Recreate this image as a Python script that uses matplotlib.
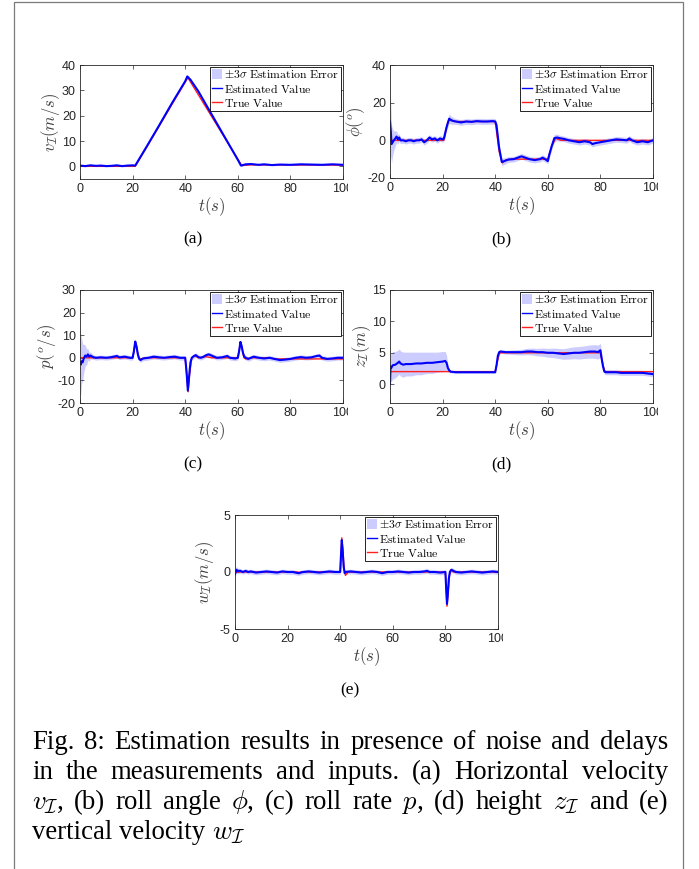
import numpy as np
import matplotlib
matplotlib.use("Agg")
import matplotlib.pyplot as plt
from matplotlib.patches import Patch, Rectangle
from matplotlib.lines import Line2D
from matplotlib.transforms import Bbox, TransformedBbox

plt.rcParams['mathtext.fontset'] = 'cm'
plt.rcParams['font.family'] = ['Liberation Sans', 'DejaVu Sans']
plt.rcParams['axes.unicode_minus'] = False

# ---------------- data (t, estimate, 3-sigma half width) ----------------
est_a = [(0,0.3,0.3),(2,0.1,0.3),(4,0.4,0.3),(6,0.2,0.3),(8,0.3,0.3),(10,0.1,0.3),(12,0.2,0.3),
         (14,0.4,0.3),(16,0.1,0.3),(18,0.3,0.3),(20,0.4,0.3),(21,0.3,0.3),(25,7.2,0.3),(30,16.0,0.3),
         (35,25.0,0.3),(40,33.6,0.3),(40.8,35.5,0.3),(42,34.2,0.3),(45,29.6,0.3),(50,20.6,0.3),
         (55,11.6,0.3),(60,2.6,0.3),(61.2,0.3,0.3),(63,0.8,0.3),(65,0.9,0.3),(68,0.6,0.3),(70,0.8,0.3),
         (73,0.5,0.3),(76,0.7,0.3),(80,0.6,0.3),(84,0.8,0.3),(88,0.7,0.3),(92,0.6,0.3),(96,0.8,0.3),
         (100,0.6,0.3)]
true_a = [(0,0),(21,0),(41,35),(61.5,0.3),(65,0.6),(100,0.5)]

est_b = [(0,10,18),(0.3,5,14),(0.6,-2,10),(1,-1,7),(1.5,0,5),(2,1,4),(2.5,2,3),(3,0.5,2.5),(3.5,1.5,2),
         (4,0,1.8),(5,0,1.5),(6,-0.5,1.5),(7,0,1.5),(8,0,1.5),(9,-0.5,1.5),(10,0,1.5),(11,0,1.5),
         (12,0.5,1.5),(13,-1,1.5),(14,0,1.5),(15,1.5,1.5),(16,0.5,1.5),(17,1,1.5),(18,0,1.5),(19,1,1.5),
         (20,0.5,1.5),(20.5,1,1.5),(21.5,7,2),(22.5,11.5,2.5),(23.5,10.5,2),(25,10,1.5),(27,9.5,1.5),
         (29,10,1.5),(31,9.8,1.5),(33,10.2,1.5),(35,10,1.5),(37,10,1.5),(39,10.2,1.5),(40,10,1.5),
         (40.5,8,1.5),(41.5,-4,2),(42.5,-11.5,2),(43.5,-11,1.8),(45,-10.2,1.5),(47,-10,1.5),(49,-9,1.5),
         (50,-8.5,1.5),(51,-9,1.5),(53,-10,1.5),(55,-10.5,1.5),(57,-10,1.5),(58,-9.2,1.5),(59,-10,1.5),
         (60,-11,1.5),(60.5,-8,1.8),(61.5,-3,2),(62.5,1.2,2),(63.5,1.5,1.8),(65,1,1.5),(66,0.8,1.5),
         (68,0,1.5),(70,-0.5,1.5),(72,-1,1.5),(74,-0.5,1.5),(76,-1,1.5),(77,-2,1.5),(78,-1.5,1.5),
         (80,-1,1.5),(82,-0.5,1.5),(84,0,1.5),(86,0.5,1.5),(88,0.3,1.5),(90,0,1.5),(91,1,1.5),
         (92,0,1.5),(94,-1,1.5),(96,-0.5,1.5),(98,-1,1.5),(100,0,1.5)]
true_b = [(0,0),(20.5,0),(22,10),(23,11),(24.5,10),(40,10),(41.5,-6),(42.7,-12),(44,-10.5),(46,-10),
          (60,-10),(61.5,-3),(63,1),(65,0),(100,0)]

est_c = [(0,-2,15),(0.3,-3,13),(0.6,-1.5,10),(1,-2,8),(1.5,0,6),(2,1,4.5),(2.5,0.5,3.5),(3,1.5,2.5),
         (3.5,0.5,2),(4,1,1.5),(5,0.3,1),(6,0,1),(8,0.2,1),(10,0,1),(12,0.3,1),(14,0.8,1),(15,0.2,1),
         (17,0.5,1),(19,0,1),(20,0,1),(20.5,3,1),(21,7.2,1.2),(21.5,5,1),(22,1.5,1),(22.5,-0.5,1),
         (23,-1,1),(24,-0.3,1),(26,0,1),(28,0.5,1),(30,0.2,1),(32,0,1),(34,0.3,1),(36,0.5,1),(38,0,1),
         (40,0,1),(40.5,-6,1.2),(41,-14.5,1.5),(41.5,-8,1.2),(42,-2,1),(42.5,0,1),(43,0.5,1),(44,1.2,1),
         (45,0.3,1),(46,0,1),(47,0.5,1),(48,1.2,1),(49,1.5,1),(50,1,1),(51,0.5,1),(52,0,1),(54,0.2,1),
         (56,0.8,1),(57,0,1),(59,-0.3,1),(60,0,1),(60.5,3,1),(61,7,1.2),(61.5,5,1),(62,2,1),(62.5,0.5,1),
         (63,0,1),(64,-0.5,1),(66,0.5,1),(68,0,1),(70,-0.3,1),(72,0,1),(74,-0.5,1),(76,-1,1),
         (78,-0.8,1),(80,-0.5,1),(82,0,1),(84,0.3,1),(86,0,1),(88,0.2,1),(90,0.8,1),(91,1,1),(92,0,1),
         (94,-0.5,1),(96,-0.3,1),(98,0,1),(100,0,1)]
true_c = [(0,0),(20,0),(20.5,3),(21,7),(21.6,4),(22.3,0),(23,-0.5),(25,0),(40,0),(40.5,-7),(41.1,-15),
          (41.7,-7),(42.5,0),(43.5,1),(45,0),(48,0.5),(50,0),(60,0),(60.5,3),(61,7.2),(61.6,4),(62.3,0),
          (63,-0.5),(65,0),(72,0),(74,-0.5),(100,-0.5)]

est_d = [(0,0,3),(0.2,2.8,2.2),(0.5,2.6,2.2),(1,3,2.2),(2,3.1,2.1),(3,3.4,2),(3.5,3.6,2),(4,3.3,2),
         (5,3.1,2),(6,3.2,1.9),(8,3.2,1.9),(10,3.3,1.8),(12,3.3,1.8),(14,3.4,1.7),(16,3.4,1.7),
         (18,3.5,1.6),(20,3.6,1.6),(21,3.7,1.5),(21.5,3.4,1.2),(22,2.6,0.6),(22.5,2.2,0.3),(23,2,0.2),
         (25,1.9,0.15),(30,1.9,0.15),(35,1.9,0.15),(40,1.9,0.15),(40.5,3,0.2),(41,4.5,0.3),
         (41.5,5.1,0.3),(42,5.2,0.3),(44,5.1,0.3),(46,5.1,0.35),(48,5.1,0.4),(50,5.1,0.45),
         (52,5.2,0.5),(54,5.2,0.55),(56,5.1,0.6),(58,5.1,0.65),(60,5,0.7),(62,5,0.75),(64,4.9,0.8),
         (66,4.8,0.85),(68,4.9,0.9),(70,5,0.95),(72,5,1),(74,5.1,1),(76,5.2,1.05),(78,5.2,1.1),
         (79,5.1,1.1),(80,5.4,1.1),(80.5,4,0.8),(81,2.8,0.5),(81.5,2,0.4),(82,1.9,0.4),(84,1.9,0.4),
         (86,1.9,0.4),(88,1.8,0.4),(90,1.8,0.4),(92,1.8,0.4),(94,1.8,0.4),(96,1.8,0.4),(98,1.7,0.4),
         (100,1.6,0.4)]
true_d = [(0,2),(40,2),(40.5,3),(41.5,4.8),(42,5),(80,5),(80.5,4),(81.5,2.2),(82,2),(100,2)]

est_e = [(0,-0.2,0.3),(0.5,0.2,0.3),(1,0.1,0.25),(2,0.1,0.2),(3,0,0.2),(4,0.1,0.2),(5,0,0.2),
         (6,0.05,0.2),(8,-0.05,0.2),(10,0,0.2),(12,0.05,0.2),(14,0,0.2),(16,-0.05,0.2),(18,0.05,0.2),
         (20,0,0.2),(22,0,0.2),(24,-0.1,0.2),(26,0,0.2),(28,0.05,0.2),(30,0,0.2),(32,-0.05,0.2),
         (34,0,0.2),(36,0.05,0.2),(38,0,0.2),(40,0,0.2),(40.3,1.5,0.2),(40.6,2.8,0.25),(40.9,2,0.2),
         (41.3,0.5,0.2),(41.7,-0.1,0.2),(42,0,0.2),(44,0.05,0.2),(46,0,0.2),(48,-0.05,0.2),(50,0,0.2),
         (52,0.05,0.2),(54,0,0.2),(56,-0.1,0.2),(58,0,0.2),(60,0,0.2),(62,0.05,0.2),(64,0,0.2),
         (66,-0.05,0.2),(68,0,0.2),(70,0,0.2),(72,0.05,0.2),(73,0.1,0.2),(74,0,0.2),(76,0,0.2),
         (78,-0.05,0.2),(80,0,0.2),(80.3,-1.5,0.2),(80.6,-2.8,0.25),(80.9,-2,0.2),(81.3,-0.6,0.2),
         (81.7,0,0.2),(82.3,0.2,0.2),(83,0.1,0.2),(84,0,0.2),(86,-0.05,0.2),(88,0,0.2),(90,0.05,0.2),
         (92,0,0.2),(94,-0.05,0.2),(96,0,0.2),(98,0.05,0.2),(100,0,0.2)]
true_e = [(0,0),(24,0),(24.5,-0.15),(25,0),(40,0),(40.3,1.5),(40.6,3),(41,2),(41.5,0.3),(42,-0.3),
          (43,0),(80,0),(80.3,-1.5),(80.6,-3),(81,-2),(81.5,-0.3),(82,0.2),(83,0),(100,0)]

ylim_list = [(-5, 40), (-20, 40), (-20, 30), (-3, 15), (-5, 5)]
yticks_list = [[0, 10, 20, 30, 40], [-20, 0, 20, 40], [-20, -10, 0, 10, 20, 30], [0, 5, 10, 15], [-5, 0, 5]]
xticks = [0, 20, 40, 60, 80, 100]
ylabels = [r'$v_{\mathcal{I}}(m/s)$', r'$\phi(^o)$', r'$p(^o/s)$', r'$z_{\mathcal{I}}(m)$', r'$w_{\mathcal{I}}(m/s)$']
sublabels = ['(a)', '(b)', '(c)', '(d)', '(e)']
legend_labels = [r'$\pm3\sigma\ \mathrm{Estimation\ Error}$', r'$\mathrm{Estimated\ Value}$', r'$\mathrm{True\ Value}$']
caption_lines = [
    "Fig. 8: Estimation results in presence of noise and delays",
    "in the measurements and inputs. (a) Horizontal velocity",
    r"$v_{\mathcal{I}}$, (b) roll angle $\phi$, (c) roll rate $p$, (d) height $z_{\mathcal{I}}$ and (e)",
    r"vertical velocity $w_{\mathcal{I}}$",
]

estimates = [est_a, est_b, est_c, est_d, est_e]
trues = [true_a, true_b, true_c, true_d, true_e]

# ---------------- layout (pixels) ----------------
W, H = 699, 869
fig = plt.figure(figsize=(W / 100, H / 100), dpi=100)
boxes = [(80, 65, 343, 179), (390, 65, 653, 178), (80, 290, 343, 403), (390, 290, 653, 403), (235, 515, 498, 629)]
sub_pos = [(193, 239), (501, 239), (193, 464), (501, 464), (350, 690)]
ylab_cx = [51, 356, 47, 362, 205]

band_color = '#ccccff'
axc = '#262626'
axes = []
for i in range(5):
    x0, y0, x1, y1 = boxes[i]
    ax = fig.add_axes([x0 / W, 1 - y1 / H, (x1 - x0) / W, (y1 - y0) / H])
    axes.append(ax)
    e = np.array(estimates[i])
    tr = np.array(trues[i])
    ax.fill_between(e[:, 0], e[:, 1] - e[:, 2], e[:, 1] + e[:, 2], color=band_color, lw=0)
    ax.plot(tr[:, 0], tr[:, 1], color='#ff2020', lw=1.0)
    ax.plot(e[:, 0], e[:, 1], color='#0000ff', lw=1.5)
    ax.set_xlim(0, 100)
    ax.set_ylim(*ylim_list[i])
    ax.set_xticks(xticks)
    ax.set_yticks(yticks_list[i])
    ax.tick_params(direction='in', length=3, width=0.5, colors=axc, labelsize=9,
                   top=True, right=True, pad=3)
    for sp in ax.spines.values():
        sp.set_linewidth(0.6)
        sp.set_color(axc)
    ax.set_xlabel(r'$t(s)$', fontsize=12, color='#404040', va='center')
    ax.xaxis.set_label_coords(0.5, -(207 - 179) / (y1 - y0))
    ax.set_ylabel(ylabels[i], fontsize=12, color='#404040', va='center')
    ax.yaxis.set_label_coords((ylab_cx[i] - x0) / (x1 - x0), 0.5)
    handles = [Patch(facecolor=band_color, edgecolor='none'),
               Line2D([], [], color='#0000ff', lw=1.0),
               Line2D([], [], color='#ff2020', lw=1.0)]
    leg = ax.legend(handles, legend_labels, loc='upper right', fontsize=8.5, frameon=True,
                    fancybox=False, framealpha=1, edgecolor='black', handlelength=0.8,
                    handleheight=0.9, handletextpad=0.2, labelspacing=0.15, borderpad=0.15,
                    borderaxespad=0.2)
    leg.get_frame().set_linewidth(0.6)
    fig.text(sub_pos[i][0] / W, 1 - sub_pos[i][1] / H, sublabels[i], family='Liberation Serif',
             fontsize=12.5, ha='center', va='center')

# frame around the whole figure
fig.patches.append(Rectangle((13.5 / W, -0.01), (682.5 - 13.5) / W, 1 - 1.5 / H + 0.01,
                             transform=fig.transFigure, fill=False, edgecolor='#7a7a7a', lw=0.9))

# caption with manual justification
fig.canvas.draw()
renderer = fig.canvas.get_renderer()
cap_left, cap_right = 32, 668
baselines = [749, 779, 809, 839]
probe = fig.text(0, 0, caption_lines[0], family='Liberation Serif', fontsize=10)
w10 = probe.get_window_extent(renderer).width
probe.remove()
fs = 0.96 * 10 * (cap_right - cap_left) / w10
for li, line in enumerate(caption_lines):
    words = line.split(' ')
    texts = [fig.text(0, 1 - baselines[li] / H, w, family='Liberation Serif', fontsize=fs,
                      va='baseline', ha='left') for w in words]
    widths = [t.get_window_extent(renderer).width for t in texts]
    if li < len(caption_lines) - 1:
        gap = (cap_right - cap_left - sum(widths)) / (len(words) - 1)
    else:
        gap = 0.25 * fs * 100 / 72
    x = cap_left
    for t, w in zip(texts, widths):
        t.set_x(x / W)
        x += w + gap

# clip the last x tick label at the right like the reference
for ax, (x0, y0, x1, y1) in zip(axes, boxes):
    for lab in ax.get_xticklabels():
        lab.set_clip_on(True)
        lab.set_clip_box(TransformedBbox(Bbox([[0, 0], [(x1 + 5) / W, 1]]), fig.transFigure))

fig.savefig('out.png', dpi=100)
